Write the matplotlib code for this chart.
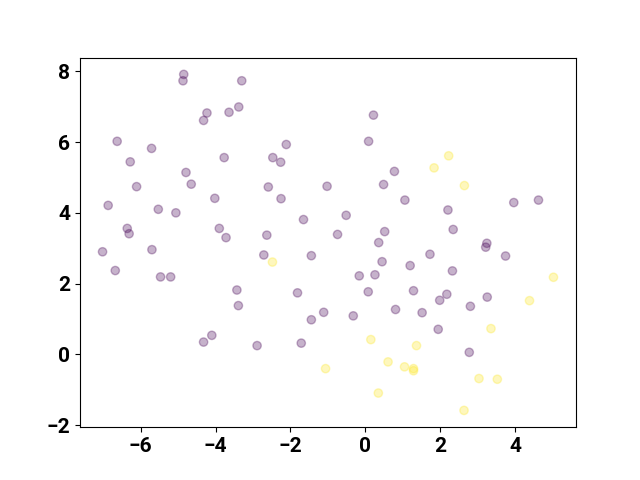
import numpy as np
import matplotlib
matplotlib.use('Agg')
import matplotlib.pyplot as plt

plt.rcParams['font.family'] = ['Roboto', 'DejaVu Sans']
plt.rcParams['font.weight'] = 'bold'
plt.rcParams['font.size'] = 15

# class 0 (purple)
x0 = [-4.85, -4.87, -3.30, -4.23, -4.32, -3.64, -3.38, -6.63, -5.71, -6.28,
      -3.77, -2.47, -2.26, -2.11, -4.79, -4.65, -6.11, -2.59, -1.02, -4.02,
      -2.25, -6.87, -5.53, -5.06, -1.65, -6.36, -6.31, -3.90, -3.72, -2.63,
      0.22, 0.09, 0.78, 0.49, 1.06, 3.97, 4.63, 2.21, -0.51, -0.74,
      0.52, 2.35, 0.36, 3.25, 3.22, -7.02, -5.70, -6.68, -5.47, -5.20,
      -2.71, -1.44, -3.43, -1.81, -3.39, -1.11, -1.44, -4.32, -4.10, -2.89,
      -1.71, 1.73, 3.75, 0.45, 1.20, 2.33, -0.16, 0.26, 0.08, 1.29,
      2.18, 1.99, 3.26, 2.81, -0.32, 0.81, 1.52, 1.95, 2.78]
y0 = [7.91, 7.73, 7.73, 6.82, 6.61, 6.84, 6.99, 6.02, 5.82, 5.44,
      5.56, 5.56, 5.43, 5.93, 5.14, 4.81, 4.74, 4.73, 4.75, 4.41,
      4.40, 4.21, 4.10, 4.00, 3.81, 3.56, 3.41, 3.56, 3.30, 3.37,
      6.76, 6.02, 5.17, 4.80, 4.36, 4.29, 4.36, 4.08, 3.93, 3.39,
      3.47, 3.53, 3.16, 3.14, 3.03, 2.90, 2.96, 2.37, 2.19, 2.19,
      2.81, 2.79, 1.82, 1.74, 1.38, 1.19, 0.98, 0.35, 0.54, 0.25,
      0.32, 2.83, 2.78, 2.62, 2.51, 2.36, 2.22, 2.25, 1.77, 1.80,
      1.70, 1.53, 1.62, 1.36, 1.09, 1.27, 1.18, 0.71, 0.06]

# class 1 (yellow)
x1 = [2.23, 1.84, 2.65, -2.48, -1.06, 5.03, 4.39, 3.36, 0.15, 1.37,
      0.61, 1.05, 1.29, 1.29, 3.04, 3.53, 0.35, 2.64]
y1 = [5.61, 5.27, 4.77, 2.61, -0.40, 2.18, 1.52, 0.73, 0.42, 0.25,
      -0.21, -0.35, -0.40, -0.46, -0.68, -0.70, -1.09, -1.58]

x = np.array(x0 + x1)
y = np.array(y0 + y1)
labels = np.array([0] * len(x0) + [1] * len(x1))

fig, ax = plt.subplots(figsize=(6.4, 4.8), dpi=100)
ax.scatter(x, y, c=labels, alpha=0.3)
plt.savefig('out.png')
